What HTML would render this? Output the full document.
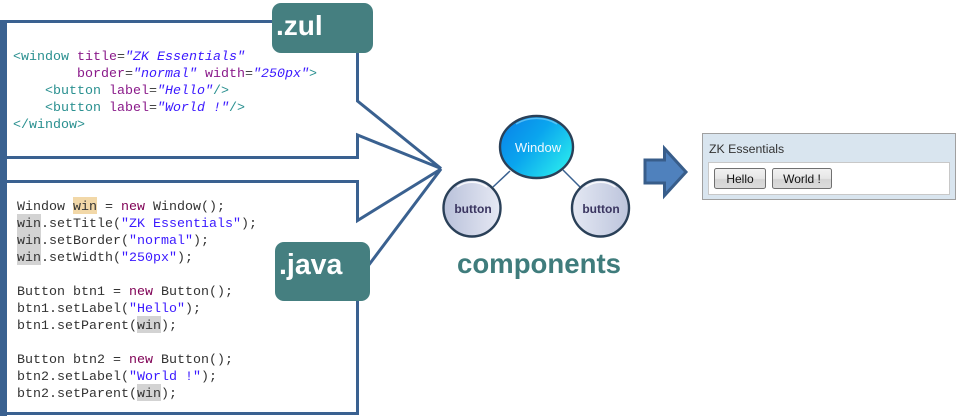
<!DOCTYPE html>
<html><head><meta charset="utf-8"><style>
html,body{margin:0;padding:0;background:#fff}
svg{display:block}
.c{font-family:"Liberation Mono",monospace;font-size:13.33px;white-space:pre}
.t{fill:#2a9090}.a{fill:#8a1a8a}.s{fill:#3a18ff;font-style:italic}.b{fill:#444}
.j{fill:#333}.k{fill:#7f0055}.v{fill:#3a18ff}
.sans{font-family:"Liberation Sans",sans-serif}
</style></head><body>
<svg width="956" height="416" viewBox="0 0 956 416" xmlns="http://www.w3.org/2000/svg">
<defs>
<linearGradient id="w" x1="0" y1="0" x2="1" y2="0.7"><stop offset="0" stop-color="#0a7fe8"/><stop offset="0.5" stop-color="#0aa5ee"/><stop offset="1" stop-color="#28e6ee"/></linearGradient>
<linearGradient id="g" x1="0" y1="0" x2="1" y2="0"><stop offset="0" stop-color="#b9c1da"/><stop offset="1" stop-color="#e6e9f4"/></linearGradient>
<linearGradient id="g2" x1="0" y1="0" x2="1" y2="0"><stop offset="0" stop-color="#e4e8f3"/><stop offset="1" stop-color="#bcc4dc"/></linearGradient>
<linearGradient id="bt" x1="0" y1="0" x2="0" y2="1"><stop offset="0" stop-color="#f2f2f2"/><stop offset="0.5" stop-color="#e6e6e6"/><stop offset="0.55" stop-color="#d4d4d4"/><stop offset="1" stop-color="#dcdcdc"/></linearGradient>
</defs>
<rect x="0" y="20" width="7" height="396" fill="#3a6190"/>
<polyline points="7,21.5 357.5,21.5 357.5,101 441,168.5 357.5,135 357.5,157.5 7,157.5" fill="#fff" stroke="#3a6190" stroke-width="3"/>
<polyline points="7,181.5 357.5,181.5 357.5,220.5 441,169 357.5,280 357.5,413.5 7,413.5" fill="#fff" stroke="#3a6190" stroke-width="3"/>
<rect x="272" y="3" width="101" height="50" rx="9" fill="#457f80"/>
<text x="276" y="35" class="sans" font-size="28" font-weight="bold" fill="#fff">.zul</text>
<rect x="275" y="242" width="95" height="59" rx="9" fill="#457f80"/>
<text x="279" y="274" class="sans" font-size="28.5" font-weight="bold" fill="#fff">.java</text>

<g class="c">
<text x="13" y="60"><tspan class="t">&lt;window </tspan><tspan class="a">title</tspan><tspan class="b">=</tspan><tspan class="s">"ZK Essentials"</tspan></text>
<text x="77" y="77"><tspan class="a">border</tspan><tspan class="b">=</tspan><tspan class="s">"normal"</tspan> <tspan class="a">width</tspan><tspan class="b">=</tspan><tspan class="s">"250px"</tspan><tspan class="t">&gt;</tspan></text>
<text x="45" y="94"><tspan class="t">&lt;button </tspan><tspan class="a">label</tspan><tspan class="b">=</tspan><tspan class="s">"Hello"</tspan><tspan class="t">/&gt;</tspan></text>
<text x="45" y="111"><tspan class="t">&lt;button </tspan><tspan class="a">label</tspan><tspan class="b">=</tspan><tspan class="s">"World !"</tspan><tspan class="t">/&gt;</tspan></text>
<text x="13" y="128" class="t">&lt;/window&gt;</text>

<rect x="73" y="197" width="24" height="17" fill="#f2d8a8"/>
<rect x="17" y="214" width="24" height="51" fill="#d3d3d3"/>
<rect x="137" y="316" width="24" height="17" fill="#d3d3d3"/>
<rect x="137" y="384" width="24" height="17" fill="#d3d3d3"/>

<text x="17" y="210" class="j">Window win = <tspan class="k">new</tspan> Window();</text>
<text x="17" y="227" class="j">win.setTitle(<tspan class="v">"ZK Essentials"</tspan>);</text>
<text x="17" y="244" class="j">win.setBorder(<tspan class="v">"normal"</tspan>);</text>
<text x="17" y="261" class="j">win.setWidth(<tspan class="v">"250px"</tspan>);</text>
<text x="17" y="295" class="j">Button btn1 = <tspan class="k">new</tspan> Button();</text>
<text x="17" y="312" class="j">btn1.setLabel(<tspan class="v">"Hello"</tspan>);</text>
<text x="17" y="329" class="j">btn1.setParent(win);</text>
<text x="17" y="363" class="j">Button btn2 = <tspan class="k">new</tspan> Button();</text>
<text x="17" y="380" class="j">btn2.setLabel(<tspan class="v">"World !"</tspan>);</text>
<text x="17" y="397" class="j">btn2.setParent(win);</text>
</g>

<line x1="510" y1="171" x2="493" y2="187" stroke="#3a6190" stroke-width="1.5"/>
<line x1="563" y1="170" x2="580" y2="187" stroke="#3a6190" stroke-width="1.5"/>
<ellipse cx="536.5" cy="147" rx="36.5" ry="31" fill="url(#w)" stroke="#2a4058" stroke-width="2.4"/>
<path d="M516,124 A34,28 0 0 1 557,124" fill="none" stroke="#6cc8f5" stroke-width="1.5" opacity=".8"/>
<text x="538" y="152" class="sans" font-size="13" fill="#eef8ff" text-anchor="middle">Window</text>
<circle cx="472" cy="208" r="28.5" fill="url(#g)" stroke="#2a4058" stroke-width="2.4"/>
<circle cx="600.5" cy="208" r="28.5" fill="url(#g2)" stroke="#2a4058" stroke-width="2.4"/>
<path d="M457,187 A26,26 0 0 1 487,187" fill="none" stroke="#fff" stroke-width="1.5" opacity=".85"/>
<path d="M585.5,187 A26,26 0 0 1 615.5,187" fill="none" stroke="#fff" stroke-width="1.5" opacity=".85"/>
<text x="473" y="213" class="sans" font-size="12" font-weight="bold" fill="#3a3560" text-anchor="middle">button</text>
<text x="601" y="213" class="sans" font-size="12" font-weight="bold" fill="#3a3560" text-anchor="middle">button</text>
<text x="539" y="273" class="sans" font-size="27.6" font-weight="bold" fill="#3f7c7c" text-anchor="middle">components</text>

<polygon points="645,160 664.5,160 664.5,148.5 686,172 664.5,195.5 664.5,183 645,183" fill="#4f81bd" stroke="#385d8a" stroke-width="3"/>

<rect x="702.5" y="133.5" width="253" height="66" fill="#d9e5ef" stroke="#a0a0a0"/>
<text x="709" y="153" class="sans" font-size="12.3" fill="#333">ZK Essentials</text>
<rect x="708.5" y="162.5" width="241" height="32" fill="#fff" stroke="#c8c8c8"/>
<rect x="714.5" y="168.5" width="51" height="20" rx="2" fill="url(#bt)" stroke="#707070"/>
<text x="740" y="183" class="sans" font-size="12" fill="#111" text-anchor="middle">Hello</text>
<rect x="772.5" y="168.5" width="59" height="20" rx="2" fill="url(#bt)" stroke="#707070"/>
<text x="802" y="183" class="sans" font-size="12" fill="#111" text-anchor="middle">World !</text>
</svg>
</body></html>
